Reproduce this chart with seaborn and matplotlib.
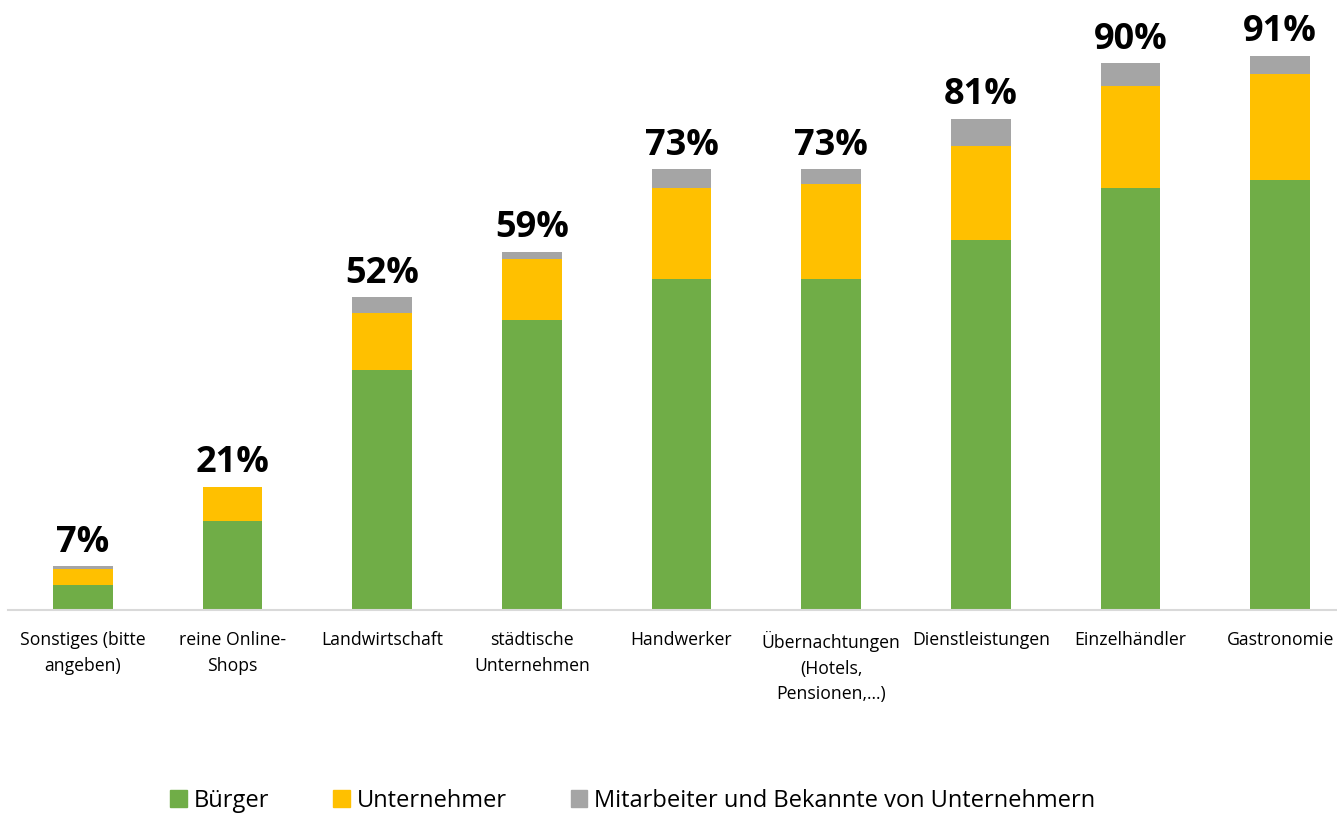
import matplotlib.pyplot as plt
import seaborn as sns
import pandas as pd

# categories and stacked shares (percent)
categories = ["Sonstiges (bitte\nangeben)", "reine Online-\nShops", "Landwirtschaft",
              "städtische\nUnternehmen", "Handwerker", "Übernachtungen\n(Hotels,\nPensionen,...)",
              "Dienstleistungen", "Einzelhändler", "Gastronomie"]
buerger = [4.1, 14.7, 39.6, 47.7, 54.6, 54.6, 60.9, 69.6, 70.8]
unternehmer = [2.6, 5.6, 9.4, 10.1, 14.9, 15.5, 15.5, 16.7, 17.5]
mitarbeiter = [0.5, 0.0, 2.5, 1.2, 3.1, 2.5, 4.5, 3.8, 3.0]
total_labels = ["7%", "21%", "52%", "59%", "73%", "73%", "81%", "90%", "91%"]

series_names = ["Bürger", "Unternehmer", "Mitarbeiter und Bekannte von Unternehmern"]
colors = ["#70AD47", "#FFC000", "#A5A5A5"]

df = pd.DataFrame({"cat": categories, "b": buerger, "u": unternehmer, "m": mitarbeiter})
df["bu"] = df["b"] + df["u"]
df["total"] = df["bu"] + df["m"]

sns.set_style("white")
plt.rcParams["font.family"] = ["Open Sans", "DejaVu Sans"]
plt.rcParams["text.color"] = "black"
plt.rcParams["xtick.color"] = "black"

fig = plt.figure(figsize=(13.37, 8.16), dpi=100)
ax = fig.add_axes([8 / 1337, 206 / 816, 1347 / 1337, 607 / 816])

# stacked bars: draw cumulative totals back to front
for col, c in zip(["total", "bu", "b"], colors[::-1]):
    sns.barplot(data=df, x="cat", y=col, color=c, width=0.4, ax=ax,
                saturation=1, linewidth=0)

for i, (t, lab) in enumerate(zip(df["total"], total_labels)):
    ax.annotate(lab, (i, t), xytext=(0, 4), textcoords="offset points",
                ha="center", va="bottom", fontsize=26, fontweight="bold")

ax.set_ylim(0, 100)
ax.set_xlim(-0.5, 8.5)
ax.set_xlabel("")
ax.set_ylabel("")
ax.set_yticks([])
ax.tick_params(axis="x", length=0, pad=15, labelsize=12.7)
for lbl in ax.get_xticklabels():
    lbl.set_verticalalignment("top")
    lbl.set_linespacing(1.55)
for s in ["top", "left", "right"]:
    ax.spines[s].set_visible(False)
ax.spines["bottom"].set_color("#D9D9D9")
ax.spines["bottom"].set_linewidth(1.5)

handles = [plt.Rectangle((0, 0), 1, 1, color=c) for c in colors]
fig.legend(handles, series_names, loc="center", bbox_to_anchor=(633 / 1337, 1 - 801 / 816),
           ncol=3, frameon=False, fontsize=17, handlelength=0.7, handleheight=0.7,
           handletextpad=0.3, columnspacing=2.7)

fig.savefig("out.png", dpi=100)
